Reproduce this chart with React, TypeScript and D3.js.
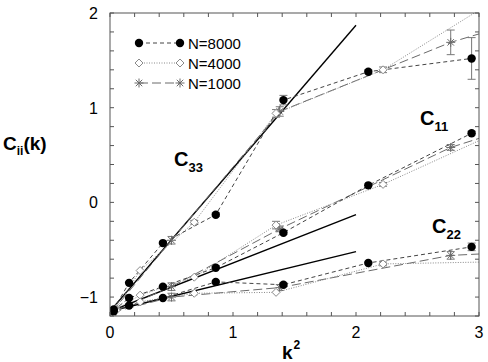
import React, { useEffect, useRef } from 'react';
import * as d3 from 'd3';

// k^2 values for each system size
const k2N8000 = [0.03, 0.155, 0.43, 0.86, 1.41, 2.1, 2.94];
const k2N4000 = [0.05, 0.245, 0.685, 1.35, 2.22, 4.67];
const k2N1000 = [0.02, 0.5, 1.38, 2.77, 4.5];

// C33(k)
const c33N8000 = [-1.13, -0.85, -0.43, -0.13, 1.08, 1.38, 1.52];
const c33N4000 = [-1.12, -0.72, -0.21, 0.94, 1.4, 3.38];
const c33N1000 = [-1.15, -0.4, 0.96, 1.69, 2.36];
const c33ErrN8000 = [0, 0, 0, 0.02, 0.05, 0.02, 0.22];
const c33ErrN4000 = [0, 0, 0.02, 0.04, 0.03, 0];
const c33ErrN1000 = [0, 0.04, 0.05, 0.13, 0];

// C11(k)
const c11N8000 = [-1.14, -1.01, -0.89, -0.69, -0.32, 0.18, 0.73];
const c11N4000 = [-1.13, -0.98, -0.79, -0.24, 0.19, 1.64];
const c11N1000 = [-1.16, -0.89, -0.28, 0.58, 1.3];
const c11ErrN8000 = [0, 0, 0, 0, 0.02, 0, 0.02];
const c11ErrN4000 = [0, 0, 0, 0.04, 0.02, 0];
const c11ErrN1000 = [0, 0.04, 0.03, 0.03, 0];

// C22(k)
const c22N8000 = [-1.15, -1.09, -1.01, -0.84, -0.87, -0.64, -0.47];
const c22N4000 = [-1.14, -1.05, -0.96, -0.95, -0.65, -0.59];
const c22N1000 = [-1.16, -1.0, -0.9, -0.56, -0.45];
const c22ErrN8000 = [0, 0, 0, 0, 0.02, 0, 0.04];
const c22ErrN4000 = [0, 0, 0, 0, 0.02, 0];
const c22ErrN1000 = [0, 0.04, 0.03, 0.04, 0];

// small-k fits (solid lines), from k^2 = 0 to 2
const fitK2 = [0, 2];
const fitC33 = [-1.15, 1.87];
const fitC11 = [-1.15, -0.13];
const fitC22 = [-1.15, -0.52];

const legendLabels = ['N=8000', 'N=4000', 'N=1000'];
const xTickLabels = [0, 1, 2, 3];
const yTickLabels = [-1, 0, 1, 2];

const W = 488;
const H = 362;
const FONT = '"Liberation Sans", Arial, Helvetica, sans-serif';

type Style = {
  kind: 'dot' | 'diamond' | 'star';
  line: string;
  dash: string;
};

const styles: Style[] = [
  { kind: 'dot', line: '#444', dash: '4,3' },
  { kind: 'diamond', line: '#8a8a8a', dash: '1,1.5' },
  { kind: 'star', line: '#6a6a6a', dash: '9,4' },
];

const App: React.FC = () => {
  const svgRef = useRef<SVGSVGElement>(null);

  useEffect(() => {
    document.body.style.margin = '0';
    if (!svgRef.current) return;
    const svg = d3.select(svgRef.current);
    svg.selectAll('*').remove();

    const margin = { top: 13, right: 9, bottom: 46, left: 110 };
    const x = d3.scaleLinear().domain([0, 3]).range([margin.left, W - margin.right]);
    const y = d3.scaleLinear().domain([-1.2, 2]).range([H - margin.bottom, margin.top]);

    svg.append('rect').attr('width', W).attr('height', H).attr('fill', '#fff');

    svg.append('defs').append('clipPath').attr('id', 'plotclip')
      .append('rect')
      .attr('x', x(0)).attr('y', y(2))
      .attr('width', x(3) - x(0)).attr('height', y(-1.2) - y(2));

    const plot = svg.append('g').attr('clip-path', 'url(#plotclip)');

    const drawMarker = (g: d3.Selection<SVGGElement, unknown, null, undefined>, kind: string, cx: number, cy: number) => {
      if (kind === 'dot') {
        g.append('circle').attr('cx', cx).attr('cy', cy).attr('r', 4.2).attr('fill', '#000');
      } else if (kind === 'diamond') {
        const r = 4;
        g.append('path')
          .attr('d', `M${cx},${cy - r}L${cx + r},${cy}L${cx},${cy + r}L${cx - r},${cy}Z`)
          .attr('fill', '#fff').attr('stroke', '#8a8a8a').attr('stroke-width', 1);
      } else {
        const r = 4.5;
        const d = r * 0.72;
        g.append('path')
          .attr('d', `M${cx - r},${cy}H${cx + r}M${cx},${cy - r}V${cy + r}M${cx - d},${cy - d}L${cx + d},${cy + d}M${cx - d},${cy + d}L${cx + d},${cy - d}`)
          .attr('stroke', '#6a6a6a').attr('stroke-width', 1).attr('fill', 'none');
      }
    };

    const line = d3.line<[number, number]>().x(d => x(d[0])).y(d => y(d[1]));

    const groups = [
      { k2: k2N8000, comps: [[c33N8000, c33ErrN8000], [c11N8000, c11ErrN8000], [c22N8000, c22ErrN8000]] },
      { k2: k2N4000, comps: [[c33N4000, c33ErrN4000], [c11N4000, c11ErrN4000], [c22N4000, c22ErrN4000]] },
      { k2: k2N1000, comps: [[c33N1000, c33ErrN1000], [c11N1000, c11ErrN1000], [c22N1000, c22ErrN1000]] },
    ];

    // solid fit lines
    [fitC33, fitC11, fitC22].forEach(f => {
      plot.append('path')
        .attr('d', line(fitK2.map((k, i) => [k, f[i]] as [number, number])))
        .attr('fill', 'none').attr('stroke', '#000').attr('stroke-width', 1.4);
    });

    // series lines, draw N=1000 first so N=8000 ends up on top
    [2, 1, 0].forEach(si => {
      const gdat = groups[si];
      const st = styles[si];
      gdat.comps.forEach(([vals]) => {
        plot.append('path')
          .attr('d', line(gdat.k2.map((k, i) => [k, vals[i]] as [number, number])))
          .attr('fill', 'none').attr('stroke', st.line).attr('stroke-width', 1)
          .attr('stroke-dasharray', st.dash);
      });
    });

    // error bars and markers
    [2, 1, 0].forEach(si => {
      const gdat = groups[si];
      const st = styles[si];
      const g = plot.append('g');
      gdat.comps.forEach(([vals, errs]) => {
        gdat.k2.forEach((k, i) => {
          const e = errs[i];
          if (e > 0) {
            const cx = x(k);
            g.append('path')
              .attr('d', `M${cx},${y(vals[i] - e)}V${y(vals[i] + e)}M${cx - 4},${y(vals[i] - e)}H${cx + 4}M${cx - 4},${y(vals[i] + e)}H${cx + 4}`)
              .attr('stroke', '#777').attr('stroke-width', 1).attr('fill', 'none');
          }
        });
      });
      gdat.comps.forEach(([vals]) => {
        gdat.k2.forEach((k, i) => drawMarker(g, st.kind, x(k), y(vals[i])));
      });
    });

    // frame
    svg.append('rect')
      .attr('x', x(0)).attr('y', y(2))
      .attr('width', x(3) - x(0)).attr('height', y(-1.2) - y(2))
      .attr('fill', 'none').attr('stroke', '#555').attr('stroke-width', 1);

    // inward ticks on all four sides
    const tl = 4;
    const xt = d3.range(0, 3.001, 0.2);
    const yt = d3.range(-1.2, 2.001, 0.2);
    const ticks = svg.append('g').attr('stroke', '#555').attr('stroke-width', 1);
    xt.forEach(t => {
      ticks.append('line').attr('x1', x(t)).attr('x2', x(t)).attr('y1', y(-1.2)).attr('y2', y(-1.2) - tl);
      ticks.append('line').attr('x1', x(t)).attr('x2', x(t)).attr('y1', y(2)).attr('y2', y(2) + tl);
    });
    yt.forEach(t => {
      ticks.append('line').attr('x1', x(0)).attr('x2', x(0) + tl).attr('y1', y(t)).attr('y2', y(t));
      ticks.append('line').attr('x1', x(3)).attr('x2', x(3) - tl).attr('y1', y(t)).attr('y2', y(t));
    });

    // tick labels
    xTickLabels.forEach(t => {
      svg.append('text').attr('x', x(t)).attr('y', y(-1.2) + 22)
        .attr('text-anchor', 'middle').attr('font-family', FONT).attr('font-size', 16)
        .text(String(t));
    });
    yTickLabels.forEach(t => {
      svg.append('text').attr('x', x(0) - 12).attr('y', y(t) + 6)
        .attr('text-anchor', 'end').attr('font-family', FONT).attr('font-size', 16)
        .text(t < 0 ? '\u2212' + Math.abs(t) : String(t));
    });

    // axis titles
    const xl = svg.append('text').attr('x', 282).attr('y', 359)
      .attr('font-family', FONT).attr('font-size', 19).attr('font-weight', 'bold');
    xl.append('tspan').text('k');
    xl.append('tspan').attr('font-size', 12).attr('dy', -10).attr('dx', 1).text('2');

    const yl = svg.append('text').attr('x', 3).attr('y', 150)
      .attr('font-family', FONT).attr('font-size', 19).attr('font-weight', 'bold');
    yl.append('tspan').text('C');
    yl.append('tspan').attr('font-size', 12).attr('dy', 5).text('ii');
    yl.append('tspan').attr('dy', -5).text('(k)');

    // component labels
    const compLabel = (px: number, py: number, sub: string) => {
      const t = svg.append('text').attr('x', px).attr('y', py)
        .attr('font-family', FONT).attr('font-size', 20).attr('font-weight', 'bold');
      t.append('tspan').text('C');
      t.append('tspan').attr('font-size', 13).attr('dy', 6).text(sub);
    };
    compLabel(174, 166, '33');
    compLabel(420, 125, '11');
    compLabel(432, 233, '22');

    // legend
    const lx1 = 139;
    const lx2 = 180;
    legendLabels.forEach((lab, i) => {
      const ly = 43 + i * 20;
      const st = styles[i];
      const lg = svg.append('g');
      lg.append('line').attr('x1', lx1).attr('x2', lx2).attr('y1', ly).attr('y2', ly)
        .attr('stroke', st.line).attr('stroke-width', 1).attr('stroke-dasharray', st.dash);
      drawMarker(lg, st.kind, lx1, ly);
      drawMarker(lg, st.kind, lx2, ly);
      lg.append('text').attr('x', 188).attr('y', ly + 5.5)
        .attr('font-family', FONT).attr('font-size', 15).text(lab);
    });
  }, []);

  return (
    <div style={{ width: W, height: H }}>
      <svg ref={svgRef} width={W} height={H} viewBox={`0 0 ${W} ${H}`} style={{ display: 'block' }} />
    </div>
  );
};

export default App;
